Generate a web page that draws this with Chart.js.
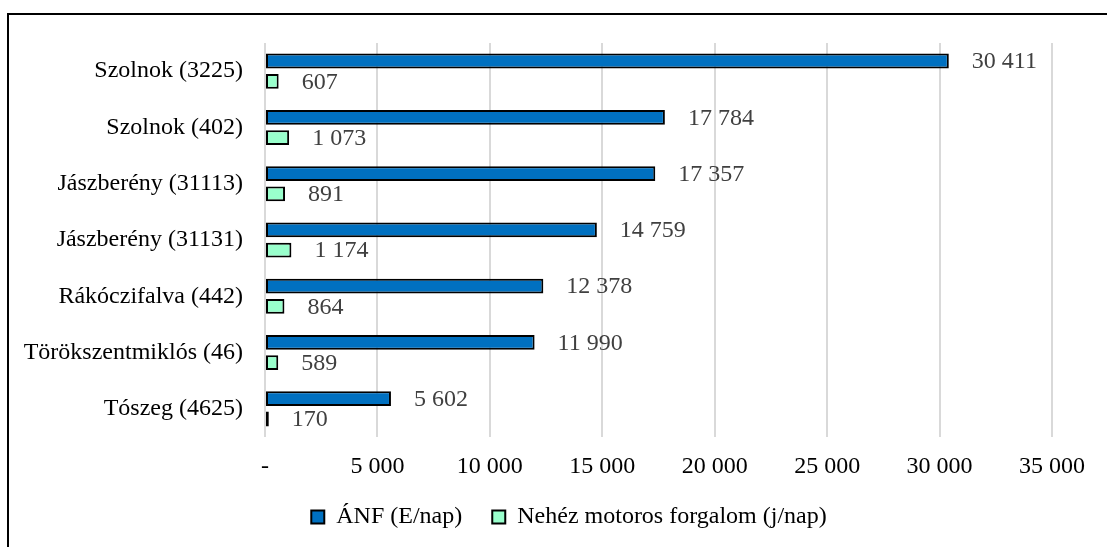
<!DOCTYPE html>
<html>
<head>
<meta charset="utf-8">
<script src="https://cdn.jsdelivr.net/npm/chart.js@4"></script>
<style>
  html, body { margin: 0; padding: 0; background: #fff; overflow: hidden; }
  #wrap { position: relative; width: 1107px; height: 547px; }
  #frame { position: absolute; left: 7px; top: 13px; width: 1300px; height: 800px; border-left: 2px solid #000; border-top: 2px solid #000; }
  canvas { position: absolute; left: 0; top: 0; }
</style>
</head>
<body>
<div id="wrap">
  <div id="frame"></div>
  <canvas id="c" width="1107" height="547"></canvas>
</div>
<script>
const categories = ['Szolnok (3225)', 'Szolnok (402)', 'Jászberény (31113)', 'Jászberény (31131)', 'Rákóczifalva (442)', 'Törökszentmiklós (46)', 'Tószeg (4625)'];
const anfValues = [30411, 17784, 17357, 14759, 12378, 11990, 5602];
const heavyValues = [607, 1073, 891, 1174, 864, 589, 170];
const seriesNames = ['ÁNF (E/nap)', 'Nehéz motoros forgalom (j/nap)'];
const xTicks = [0, 5000, 10000, 15000, 20000, 25000, 30000, 35000];

const FONT = "'Liberation Serif', 'Times New Roman', serif";
const FS = 24;

function fmt(v) {
  if (v === 0) return '-';
  return String(v).replace(/\B(?=(\d{3})+(?!\d))/g, ' ');
}

const valueLabels = {
  id: 'valueLabels',
  afterDatasetsDraw(chart) {
    const ctx = chart.ctx;
    ctx.save();
    ctx.font = FS + 'px ' + FONT;
    ctx.fillStyle = '#404040';
    ctx.textAlign = 'left';
    ctx.textBaseline = 'middle';
    chart.data.datasets.forEach((ds, di) => {
      const meta = chart.getDatasetMeta(di);
      meta.data.forEach((bar, i) => {
        ctx.fillText(fmt(ds.data[i]), bar.x + 23, bar.y + 1);
      });
    });
    ctx.restore();
  }
};

// The legend in the reference is centred on the whole frame, not the plot: shift its box
const legendShift = {
  id: 'legendShift',
  afterLayout(chart) {
    if (chart.legend) { chart.legend.left = 86; }
  }
};

new Chart(document.getElementById('c'), {
  type: 'bar',
  data: {
    labels: categories,
    datasets: [
      { label: seriesNames[0], data: anfValues, backgroundColor: '#0070C0', borderColor: '#000', borderWidth: 2, borderSkipped: false, categoryPercentage: 0.72, barPercentage: 0.73 },
      { label: seriesNames[1], data: heavyValues, backgroundColor: '#99FFCC', borderColor: '#000', borderWidth: 2, borderSkipped: false, categoryPercentage: 0.72, barPercentage: 0.73 }
    ]
  },
  options: {
    indexAxis: 'y',
    responsive: false,
    animation: false,
    layout: { padding: { top: 43, right: 55, left: 0, bottom: 8 } },
    scales: {
      x: {
        min: 0, max: 35000,
        afterBuildTicks(scale) { scale.ticks = xTicks.map(v => ({ value: v })); },
        grid: { color: '#d9d9d9', lineWidth: 2, drawTicks: false },
        border: { display: false },
        ticks: { font: { family: FONT, size: FS }, color: '#000', padding: 15, callback: v => fmt(v) },
        afterFit(scale) { scale.height = 38; }
      },
      y: {
        grid: { display: false, drawTicks: false },
        border: { display: false },
        ticks: { font: { family: FONT, size: FS }, color: '#000', padding: 22 },
        afterFit(scale) { scale.width = 265; }
      }
    },
    plugins: {
      legend: {
        position: 'bottom',
        labels: { font: { family: FONT, size: FS }, color: '#000', boxWidth: 13, boxHeight: 13, padding: 30 }
      },
      tooltip: { enabled: false }
    }
  },
  plugins: [valueLabels, legendShift]
});
</script>
</body>
</html>
